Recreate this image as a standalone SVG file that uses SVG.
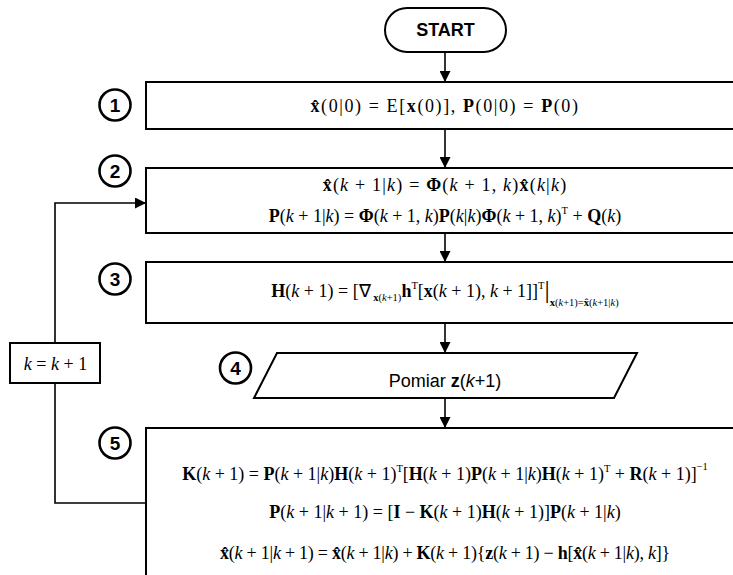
<svg xmlns="http://www.w3.org/2000/svg" width="733" height="575" viewBox="0 0 733 575">
<style>
.box{fill:#fff;stroke:#000;stroke-width:2}
.ln{fill:none;stroke:#000;stroke-width:1.6}
.num{fill:#fff;stroke:#000;stroke-width:2.6}
.numt{font-family:"Liberation Sans",Arial,sans-serif;font-weight:bold;font-size:19px;text-anchor:middle}
.sans{font-family:"Liberation Sans",Arial,sans-serif;font-size:18px;text-anchor:middle}
.m{font-family:"Liberation Serif","Times New Roman",serif;font-size:18px;text-anchor:middle}
.b{font-weight:bold}
.i{font-style:italic}
.s{font-size:10.5px}
</style>
<defs>
<marker id="ah2" viewBox="0 0 10 10" refX="10" refY="5" markerWidth="11" markerHeight="11" orient="auto" markerUnits="userSpaceOnUse">
<path d="M0,0 L10,5 L0,10 z" fill="#000"/>
</marker>
</defs>
<g id="connectors">
<line class="ln" x1="445" y1="52" x2="445" y2="82" marker-end="url(#ah2)"/>
<line class="ln" x1="445" y1="129" x2="445" y2="168" marker-end="url(#ah2)"/>
<line class="ln" x1="445" y1="233" x2="445" y2="262" marker-end="url(#ah2)"/>
<line class="ln" x1="445" y1="323" x2="445" y2="353" marker-end="url(#ah2)"/>
<line class="ln" x1="445" y1="398" x2="445" y2="428" marker-end="url(#ah2)"/>
<polyline class="ln" points="146,503 55,503 55,383"/>
<polyline class="ln" points="55,343 55,203 146,203" marker-end="url(#ah2)"/>
</g>
<g id="start">
<rect class="box" x="385" y="8" width="121" height="44" rx="22" ry="22"/>
<text class="sans b" x="445.5" y="36" font-size="19">START</text>
</g>
<g id="step1">
<rect class="box" x="146" y="82" width="600" height="47"/>
<circle class="num" cx="115" cy="105" r="15.5"/>
<text class="numt" x="115" y="112">1</text>
<text class="m" x="445" y="112" letter-spacing="1.6"><tspan class="b">x̂</tspan>(0|0) = E[<tspan class="b">x</tspan>(0)],  <tspan class="b">P</tspan>(0|0) = <tspan class="b">P</tspan>(0)</text>
</g>
<g id="step2">
<rect class="box" x="146" y="168" width="600" height="65"/>
<circle class="num" cx="115" cy="171" r="15.5"/>
<text class="numt" x="115" y="178">2</text>
<text class="m" x="445" y="191" letter-spacing="1.2"><tspan class="b">x̂</tspan>(<tspan class="i">k</tspan> + 1|<tspan class="i">k</tspan>) = <tspan class="b">Φ</tspan>(<tspan class="i">k</tspan> + 1, <tspan class="i">k</tspan>)<tspan class="b">x̂</tspan>(<tspan class="i">k</tspan>|<tspan class="i">k</tspan>)</text>
<text class="m" x="445" y="222"><tspan class="b">P</tspan>(<tspan class="i">k</tspan> + 1|<tspan class="i">k</tspan>) = <tspan class="b">Φ</tspan>(<tspan class="i">k</tspan> + 1, <tspan class="i">k</tspan>)<tspan class="b">P</tspan>(<tspan class="i">k</tspan>|<tspan class="i">k</tspan>)<tspan class="b">Φ</tspan>(<tspan class="i">k</tspan> + 1, <tspan class="i">k</tspan>)<tspan class="s" dy="-8">T</tspan><tspan dy="8"> + </tspan><tspan class="b">Q</tspan>(<tspan class="i">k</tspan>)</text>
</g>
<g id="step3">
<rect class="box" x="146" y="262" width="600" height="61"/>
<circle class="num" cx="115" cy="279" r="15.5"/>
<text class="numt" x="115" y="286">3</text>
<text class="m" x="445" y="297"><tspan class="b">H</tspan>(<tspan class="i">k</tspan> + 1) = [∇<tspan class="s b" dy="4"> x</tspan><tspan class="s">(<tspan class="i">k</tspan>+1)</tspan><tspan class="b" dy="-4">h</tspan><tspan class="s" dy="-8">T</tspan><tspan dy="8">[</tspan><tspan class="b">x</tspan>(<tspan class="i">k</tspan> + 1), <tspan class="i">k</tspan> + 1]]<tspan class="s" dy="-8">T</tspan><tspan dy="9" font-size="26">|</tspan><tspan class="s b" dy="8">x</tspan><tspan class="s">(<tspan class="i">k</tspan>+1)=</tspan><tspan class="s b">x̂</tspan><tspan class="s">(<tspan class="i">k</tspan>+1|<tspan class="i">k</tspan>)</tspan></text>
</g>
<g id="step4">
<polygon class="box" points="277,353 637,353 614,398 254,398"/>
<circle class="num" cx="235.5" cy="368" r="15.5"/>
<text class="numt" x="235.5" y="375">4</text>
<text class="sans" x="445" y="387">Pomiar <tspan class="b">z</tspan>(<tspan class="i">k</tspan>+1)</text>
</g>
<g id="step5">
<rect class="box" x="146" y="428" width="600" height="160"/>
<circle class="num" cx="115" cy="443" r="15.5"/>
<text class="numt" x="115" y="450">5</text>
<text class="m" x="445" y="480"><tspan class="b">K</tspan>(<tspan class="i">k</tspan> + 1) = <tspan class="b">P</tspan>(<tspan class="i">k</tspan> + 1|<tspan class="i">k</tspan>)<tspan class="b">H</tspan>(<tspan class="i">k</tspan> + 1)<tspan class="s" dy="-8">T</tspan><tspan dy="8">[</tspan><tspan class="b">H</tspan>(<tspan class="i">k</tspan> + 1)<tspan class="b">P</tspan>(<tspan class="i">k</tspan> + 1|<tspan class="i">k</tspan>)<tspan class="b">H</tspan>(<tspan class="i">k</tspan> + 1)<tspan class="s" dy="-8">T</tspan><tspan dy="8"> + </tspan><tspan class="b">R</tspan>(<tspan class="i">k</tspan> + 1)]<tspan class="s" dy="-10">−1</tspan></text>
<text class="m" x="445" y="518"><tspan class="b">P</tspan>(<tspan class="i">k</tspan> + 1|<tspan class="i">k</tspan> + 1) = [<tspan class="b">I</tspan> − <tspan class="b">K</tspan>(<tspan class="i">k</tspan> + 1)<tspan class="b">H</tspan>(<tspan class="i">k</tspan> + 1)]<tspan class="b">P</tspan>(<tspan class="i">k</tspan> + 1|<tspan class="i">k</tspan>)</text>
<text class="m" x="445" y="559" letter-spacing="-0.25"><tspan class="b">x̂</tspan>(<tspan class="i">k</tspan> + 1|<tspan class="i">k</tspan> + 1) = <tspan class="b">x̂</tspan>(<tspan class="i">k</tspan> + 1|<tspan class="i">k</tspan>) + <tspan class="b">K</tspan>(<tspan class="i">k</tspan> + 1){<tspan class="b">z</tspan>(<tspan class="i">k</tspan> + 1) − <tspan class="b">h</tspan>[<tspan class="b">x̂</tspan>(<tspan class="i">k</tspan> + 1|<tspan class="i">k</tspan>), <tspan class="i">k</tspan>]}</text>
</g>
<g id="increment">
<rect class="box" x="10" y="343" width="90" height="40"/>
<text class="m" x="55.5" y="370" font-size="20"><tspan class="i">k</tspan> = <tspan class="i">k</tspan> + 1</text>
</g>
</svg>
